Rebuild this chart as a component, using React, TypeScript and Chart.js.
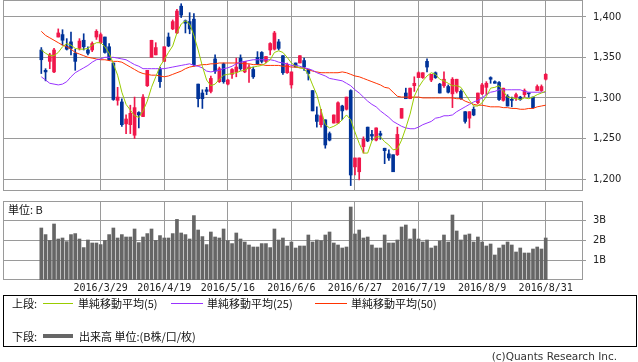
import React, { useEffect, useRef } from 'react';
import { Chart, registerables } from 'chart.js';

Chart.register(...registerables);

// ---- data ----
const OPEN = [1359,1334,1345,1332,1375,1378,1364,1369,1355,1361,1371,1359,1359,1375,1368,1375,1363,1343,1297,1295,1268,1267,1254,1282,1277,1315,1350,1353,1335,1345,1375,1385,1380,1413,1395,1394,1397,1317,1306,1310,1308,1348,1320,1342,1317,1329,1332,1349,1332,1336,1335,1350,1356,1345,1359,1360,1369,1352,1331,1316,1343,1343,1346,1335,1309,1279,1267,1273,1256,1269,1269,1290,1286,1309,1215,1209,1240,1264,1255,1248,1256,1238,1231,1230,1230,1275,1306,1299,1315,1325,1325,1345,1322,1331,1317,1315,1314,1305,1308,1308,1283,1275,1286,1294,1305,1313,1325,1320,1319,1297,1302,1298,1301,1301,1304,1306,1301,1309,1309,1323];
const HIGH = [1362,1336,1355,1361,1385,1384,1373,1381,1360,1373,1379,1363,1369,1384,1380,1375,1367,1343,1313,1299,1279,1291,1301,1283,1304,1334,1371,1368,1338,1363,1380,1396,1409,1416,1396,1405,1404,1317,1310,1313,1327,1353,1338,1343,1323,1336,1349,1353,1345,1341,1338,1357,1357,1351,1368,1382,1372,1352,1343,1332,1343,1352,1349,1335,1309,1289,1286,1273,1258,1279,1295,1291,1301,1310,1226,1226,1252,1264,1260,1263,1259,1238,1236,1230,1264,1287,1312,1312,1326,1332,1331,1348,1329,1332,1318,1332,1316,1325,1323,1310,1283,1283,1289,1306,1318,1320,1326,1321,1320,1312,1304,1301,1306,1302,1311,1306,1301,1316,1316,1330];
const LOW = [1330,1321,1336,1331,1375,1365,1359,1353,1334,1359,1359,1353,1357,1372,1367,1355,1346,1297,1291,1265,1256,1256,1250,1263,1277,1314,1350,1353,1313,1345,1363,1384,1379,1399,1380,1379,1339,1289,1287,1304,1306,1330,1319,1318,1316,1324,1326,1334,1331,1319,1324,1341,1343,1343,1353,1359,1359,1329,1330,1312,1338,1343,1334,1322,1284,1264,1264,1238,1247,1269,1269,1273,1285,1192,1205,1199,1232,1246,1248,1247,1249,1219,1223,1209,1229,1275,1299,1299,1308,1325,1324,1332,1320,1324,1306,1313,1306,1288,1306,1298,1269,1263,1278,1293,1304,1304,1318,1318,1297,1296,1290,1289,1297,1297,1301,1301,1287,1309,1308,1322];
const CLOSE = [1347,1332,1353,1359,1380,1371,1360,1361,1345,1370,1363,1355,1367,1382,1378,1356,1347,1298,1301,1267,1274,1281,1288,1279,1301,1334,1371,1362,1320,1363,1364,1394,1407,1402,1392,1385,1341,1299,1299,1308,1324,1333,1336,1320,1322,1335,1338,1336,1345,1338,1326,1342,1345,1351,1367,1380,1361,1331,1341,1332,1338,1352,1338,1330,1284,1271,1278,1242,1248,1279,1294,1284,1301,1205,1226,1226,1249,1247,1253,1263,1254,1235,1226,1209,1255,1287,1299,1312,1318,1331,1331,1338,1329,1325,1306,1323,1307,1323,1323,1299,1271,1283,1279,1306,1316,1318,1323,1318,1298,1312,1290,1297,1304,1298,1309,1305,1288,1314,1314,1329];
const MA5 = [1359,1355,1352,1352,1356,1363,1367,1365,1361,1360,1360,1361,1365,1368,1368,1363,1355,1342,1328,1307,1292,1285,1278,1276,1284,1296,1313,1326,1339,1347,1356,1364,1380,1391,1395,1391,1377,1359,1339,1322,1315,1317,1323,1328,1329,1330,1331,1333,1334,1337,1338,1339,1340,1343,1347,1356,1358,1356,1350,1343,1339,1337,1336,1329,1316,1304,1285,1267,1263,1265,1268,1273,1279,1273,1258,1244,1232,1232,1247,1252,1252,1246,1242,1236,1237,1248,1263,1280,1302,1313,1321,1327,1331,1329,1323,1321,1318,1315,1315,1313,1305,1297,1290,1290,1294,1302,1312,1313,1315,1308,1301,1300,1299,1298,1300,1299,1301,1304,1306,1308];
const MA25 = [1326,1322,1318,1317,1316,1317,1320,1326,1331,1334,1337,1340,1344,1347,1348,1350,1350,1350,1349,1348,1347,1344,1341,1339,1336,1336,1336,1336,1336,1336,1337,1338,1339,1340,1341,1342,1340,1339,1337,1333,1332,1333,1334,1336,1337,1339,1342,1344,1345,1346,1347,1347,1347,1347,1347,1346,1344,1343,1342,1340,1340,1339,1337,1336,1334,1331,1329,1327,1324,1323,1322,1321,1318,1315,1310,1306,1301,1296,1292,1289,1284,1280,1276,1271,1268,1265,1263,1262,1262,1264,1267,1269,1271,1275,1276,1278,1278,1279,1283,1286,1289,1292,1295,1297,1300,1304,1307,1308,1310,1310,1310,1310,1310,1310,1308,1307,1307,1307,1307,1307];
const MA50 = [1382,1377,1374,1371,1368,1365,1363,1360,1356,1354,1352,1350,1349,1348,1347,1347,1346,1345,1345,1344,1341,1338,1335,1332,1330,1329,1328,1328,1327,1326,1327,1329,1331,1333,1336,1338,1339,1340,1341,1341,1342,1342,1343,1343,1343,1343,1343,1343,1342,1342,1341,1341,1341,1340,1340,1340,1340,1339,1339,1338,1338,1337,1337,1335,1333,1332,1331,1331,1331,1331,1331,1332,1331,1329,1327,1326,1324,1322,1320,1318,1316,1313,1312,1307,1302,1301,1301,1301,1301,1301,1300,1300,1300,1300,1300,1300,1300,1300,1299,1299,1296,1294,1292,1291,1291,1290,1289,1289,1289,1288,1288,1287,1287,1286,1286,1287,1287,1289,1290,1291];
const VOLUME = [2.6,2.27,1.98,2.8,2.05,2.1,1.92,2.27,2.32,2.05,1.62,2.0,1.85,1.85,1.77,1.98,2.27,2.6,2.1,2.27,2.15,2.15,2.55,1.87,2.15,2.32,2.55,1.98,2.22,2.1,2.1,2.32,3.03,2.35,2.27,2.05,3.22,2.5,2.17,1.77,2.4,2.15,2.1,2.55,1.97,1.82,2.35,2.05,1.9,1.75,1.65,1.65,1.82,1.82,1.62,2.55,2.0,2.1,1.7,1.9,1.6,1.7,1.7,2.25,1.9,2.0,1.97,2.25,2.4,1.85,1.75,1.6,1.65,3.65,2.3,2.5,2.1,2.15,1.75,1.6,1.6,2.25,1.85,1.85,2.0,2.65,2.75,2.05,2.55,2.05,1.9,2.0,1.6,1.7,1.95,2.25,1.9,3.25,2.45,2.0,2.25,2.3,1.9,2.15,1.9,1.7,1.8,1.25,1.6,1.75,1.9,1.75,1.4,1.6,1.35,1.35,1.55,1.65,1.55,2.1];
const TICK_INDEX = [14, 29, 44, 59, 74, 89, 104, 119];
const TICK_LABELS = ['2016/3/29', '2016/4/19', '2016/5/16', '2016/6/6', '2016/6/27', '2016/7/19', '2016/8/9', '2016/8/31'];
const PRICE_TICKS = [1200, 1250, 1300, 1350, 1400];
const VOLUME_TICKS = [1, 2, 3];

// ---- styles ----
const UP = '#f0174b';
const DOWN = '#003399';
const C_MA5 = '#99cc00';
const C_MA25 = '#9933ff';
const C_MA50 = '#ff3300';
const VOL_COLOR = '#666666';
const GRID = '#9a9a9a';
const AXIS_FONT = "'DejaVu Sans Condensed', 'DejaVu Sans', sans-serif";
const X_MIN = -9.04;
const X_MAX = 127.8;

const framePlugin = {
  id: 'frame',
  beforeDatasetsDraw(chart: any) {
    const { ctx, chartArea: a } = chart;
    ctx.save();
    ctx.strokeStyle = GRID;
    ctx.lineWidth = 1;
    const l = Math.round(a.left) + 0.5;
    const t = Math.round(a.top) + 0.5;
    const r = Math.round(a.right) - 0.5;
    const b = Math.round(a.bottom) - 0.5;
    ctx.strokeRect(l, t, r - l, b - t);
    ctx.restore();
  },
};

const noPad = (s: any) => {
  s.paddingTop = 0;
  s.paddingBottom = 0;
  s.paddingLeft = 0;
  s.paddingRight = 0;
};

export default function App() {
  const priceRef = useRef<HTMLCanvasElement>(null);
  const volRef = useRef<HTMLCanvasElement>(null);

  useEffect(() => {
    const idx = CLOSE.map((_, i) => i);
    const colorOf = (i: number) => (CLOSE[i] >= OPEN[i] ? UP : DOWN);
    const candleColors = idx.map(colorOf);

    const xScaleBase: any = {
      type: 'linear',
      min: X_MIN,
      max: X_MAX,
      offset: false,
      afterBuildTicks: (s: any) => {
        s.ticks = TICK_INDEX.map((v) => ({ value: v }));
      },
      grid: { color: GRID, drawTicks: false, offset: false },
      border: { display: false },
    };

    const price = new Chart(priceRef.current as HTMLCanvasElement, {
      type: 'bar',
      data: {
        datasets: [
          { type: 'line', label: 'MA5', data: idx.map((i) => ({ x: i, y: MA5[i] })), borderColor: C_MA5, borderWidth: 1, pointRadius: 0, tension: 0 } as any,
          { type: 'line', label: 'MA25', data: idx.map((i) => ({ x: i, y: MA25[i] })), borderColor: C_MA25, borderWidth: 1, pointRadius: 0, tension: 0 } as any,
          { type: 'line', label: 'MA50', data: idx.map((i) => ({ x: i, y: MA50[i] })), borderColor: C_MA50, borderWidth: 1, pointRadius: 0, tension: 0 } as any,
          { type: 'bar', label: 'body', data: idx.map((i) => ({ x: i, y: [OPEN[i], CLOSE[i]] })), backgroundColor: candleColors, barThickness: 3, grouped: false, minBarLength: 1, borderWidth: 0 } as any,
          { type: 'bar', label: 'wick', data: idx.map((i) => ({ x: i, y: [LOW[i], HIGH[i]] })), backgroundColor: candleColors, barThickness: 1, grouped: false, minBarLength: 1, borderWidth: 0 } as any,
        ],
      },
      options: {
        responsive: false,
        animation: false,
        events: [],
        layout: { padding: { left: 3, top: 0, right: 0, bottom: 0 } },
        plugins: { legend: { display: false }, tooltip: { enabled: false } },
        scales: {
          x: {
            ...xScaleBase,
            ticks: { display: false },
            afterFit: (s: any) => {
              s.height = 0;
              noPad(s);
            },
          },
          y: {
            position: 'right',
            min: 1185.3,
            max: 1420.6,
            afterBuildTicks: (s: any) => {
              s.ticks = PRICE_TICKS.map((v) => ({ value: v }));
            },
            ticks: {
              callback: (v: any) => Number(v).toLocaleString('en-US'),
              font: { family: AXIS_FONT, size: 11 },
              color: '#222',
              padding: 7,
            },
            grid: { color: GRID, tickLength: 3 },
            border: { display: false },
            afterFit: (s: any) => {
              s.width = 55;
              noPad(s);
            },
          },
        },
      } as any,
      plugins: [framePlugin],
    });

    const volume = new Chart(volRef.current as HTMLCanvasElement, {
      type: 'bar',
      data: {
        datasets: [
          { label: '出来高', data: idx.map((i) => ({ x: i, y: VOLUME[i] })), backgroundColor: VOL_COLOR, barThickness: 3, borderWidth: 0, grouped: false } as any,
        ],
      },
      options: {
        responsive: false,
        animation: false,
        events: [],
        layout: { padding: { left: 3, top: 1, right: 0, bottom: 0 } },
        plugins: { legend: { display: false }, tooltip: { enabled: false } },
        scales: {
          x: {
            ...xScaleBase,
            ticks: {
              autoSkip: false,
              maxRotation: 0,
              minRotation: 0,
              padding: 2,
              color: '#222',
              font: { family: "'DejaVu Sans Mono', monospace", size: 10 },
              callback: (v: any) => {
                const k = TICK_INDEX.indexOf(Math.round(Number(v)));
                return k >= 0 ? TICK_LABELS[k] : '';
              },
            },
            afterFit: (s: any) => {
              s.height = 16;
              noPad(s);
            },
          },
          y: {
            position: 'right',
            min: 0,
            max: 3.95,
            afterBuildTicks: (s: any) => {
              s.ticks = VOLUME_TICKS.map((v) => ({ value: v }));
            },
            ticks: {
              callback: (v: any) => `${v}B`,
              font: { family: AXIS_FONT, size: 11 },
              color: '#222',
              padding: 7,
            },
            grid: { color: GRID, tickLength: 3 },
            border: { display: false },
            afterFit: (s: any) => {
              s.width = 55;
              noPad(s);
            },
          },
        },
      } as any,
      plugins: [framePlugin],
    });

    return () => {
      price.destroy();
      volume.destroy();
    };
  }, []);

  const jp = "'Noto Sans CJK JP', 'Noto Sans', sans-serif";
  const textStyle: React.CSSProperties = {
    position: 'absolute',
    fontFamily: jp,
    fontSize: 11,
    lineHeight: '14px',
    color: '#111',
    whiteSpace: 'nowrap',
  };
  const lineStyle = (left: number, top: number, width: number, height: number, color: string): React.CSSProperties => ({
    position: 'absolute',
    left,
    top,
    width,
    height,
    background: color,
  });

  return (
    <div style={{ position: 'fixed', left: 0, top: 0, width: 638, height: 362, background: '#fff', overflow: 'hidden' }}>
      <canvas ref={priceRef} width={638} height={191} style={{ position: 'absolute', left: 0, top: 0, width: 638, height: 191 }} />
      <canvas ref={volRef} width={638} height={96} style={{ position: 'absolute', left: 0, top: 200, width: 638, height: 96 }} />
      <div style={{ ...textStyle, left: 8, top: 202 }}>単位: B</div>

      <div style={{ position: 'absolute', left: 3, top: 295, width: 632, height: 50, border: '1px solid #000' }} />
      <div style={{ ...textStyle, left: 12, top: 296 }}>上段:</div>
      <div style={lineStyle(43, 303, 30, 1, C_MA5)} />
      <div style={{ ...textStyle, left: 78, top: 296 }}>単純移動平均(5)</div>
      <div style={lineStyle(171, 303, 32, 1, C_MA25)} />
      <div style={{ ...textStyle, left: 207, top: 296 }}>単純移動平均(25)</div>
      <div style={lineStyle(315, 303, 32, 1, C_MA50)} />
      <div style={{ ...textStyle, left: 351, top: 296 }}>単純移動平均(50)</div>

      <div style={{ ...textStyle, left: 12, top: 329 }}>下段:</div>
      <div style={lineStyle(43, 334, 30, 4, VOL_COLOR)} />
      <div style={{ ...textStyle, left: 79, top: 329 }}>出来高 単位:(B株/口/枚)</div>

      <div style={{ ...textStyle, right: 21, top: 349, fontFamily: "'DejaVu Sans', sans-serif", fontSize: 10.5, color: '#333' }}>(c)Quants Research Inc.</div>
    </div>
  );
}
